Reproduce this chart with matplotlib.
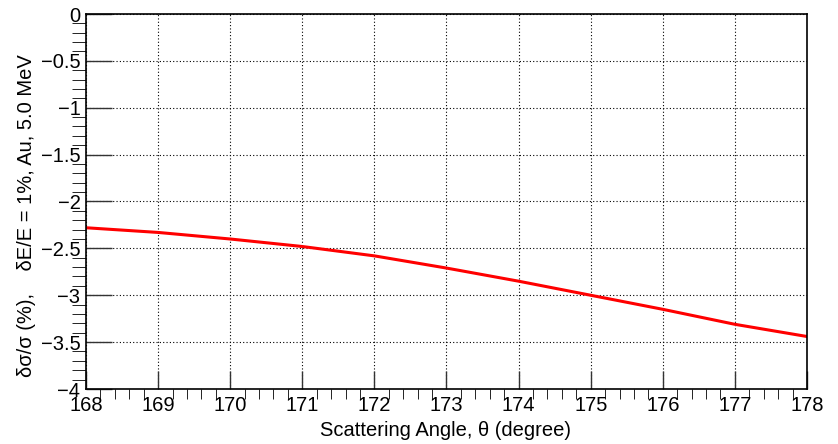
import matplotlib
matplotlib.use("Agg")
import matplotlib.pyplot as plt
from matplotlib.ticker import MultipleLocator, FuncFormatter

plt.rcParams['font.family'] = ['Liberation Sans', 'DejaVu Sans']

# values
angle = [168, 169, 170, 171, 172, 173, 174, 175, 176, 177, 178]
dsig = [-2.28, -2.33, -2.40, -2.48, -2.58, -2.71, -2.85, -3.00, -3.15, -3.31, -3.44]

fig = plt.figure(figsize=(8.38, 4.44), dpi=100)
ax = fig.add_axes([86 / 838, 1 - 389 / 444, 721 / 838, 375 / 444])

ax.plot(angle, dsig, color='red', lw=2.2)

ax.set_xlim(168, 178)
ax.set_ylim(-4, 0)
ax.xaxis.set_major_locator(MultipleLocator(1))
ax.xaxis.set_minor_locator(MultipleLocator(0.2))
ax.yaxis.set_major_locator(MultipleLocator(0.5))
ax.yaxis.set_minor_locator(MultipleLocator(0.1))
ax.yaxis.set_major_formatter(FuncFormatter(lambda v, p: f"{v:g}".replace('-', '\u2212')))

ax.tick_params(axis='both', direction='in', labelsize=14.5, width=1, color='#333333')
ax.tick_params(axis='x', which='major', length=13, pad=5)
ax.tick_params(axis='x', which='minor', length=7)
ax.tick_params(axis='y', which='major', length=19, pad=4)
ax.tick_params(axis='y', which='minor', length=10)
ax.grid(True, which='major', color='black', linestyle=(0, (1, 2)), lw=0.8)

for s in ax.spines.values():
    s.set_linewidth(1.2)

# axis titles placed like ROOT does
fig.text(445 / 838, 1 - 430 / 444, "Scattering Angle, θ (degree)",
         fontsize=14.5, ha='center', va='center')
fig.text(27 / 838, 1 - 216 / 444, "δσ/σ (%),    δE/E = 1%, Au, 5.0 MeV",
         fontsize=14.5, ha='center', va='center', rotation=90)

fig.savefig("out.png", dpi=100)
